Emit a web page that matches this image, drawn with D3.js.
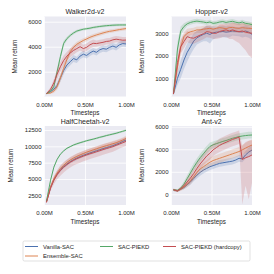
<!DOCTYPE html>
<html>
<head>
<meta charset="utf-8">
<script src="https://cdn.jsdelivr.net/npm/d3@7"></script>
<style>
body { margin: 0; background: #fff; }
svg { display: block; font-family: "Liberation Sans", Arial, sans-serif; }
</style>
</head>
<body>
<svg id="chart" width="274" height="274"></svg>
<script>
// timesteps (millions)
const steps = [0.03,0.08,0.12,0.16,0.20,0.24,0.28,0.32,0.36,0.40,0.44,0.48,0.52,0.56,0.60,0.64,0.68,0.72,0.76,0.80,0.84,0.88,0.92,0.96,1.00];

const seriesNames = ['Vanilla-SAC', 'Ensemble-SAC', 'SAC-PIEKD', 'SAC-PIEKD (hardcopy)'];
const xTickValues = [0, 0.5, 1.0];

// Walker2d-v2
const walkerVanilla  = [250,400,600,900,1500,2100,2540,2800,3050,2950,3250,3400,3300,3500,3650,3550,3750,3850,3800,3950,4050,3950,4150,4250,4220];
const walkerEnsemble = [250,300,450,800,1500,2270,3000,3600,3950,4200,4350,4500,4620,4750,4850,4940,5020,5100,5170,5230,5270,5320,5370,5410,5450];
const walkerPiekd    = [250,450,800,2000,3200,4270,4650,4900,5100,5250,5330,5400,5440,5480,5540,5580,5620,5650,5680,5700,5720,5730,5740,5740,5740];
const walkerHard     = [250,600,1100,1800,2400,2900,3250,3500,3700,3850,4000,3850,3950,4150,4270,4250,4300,4350,4420,4450,4550,4600,4560,4520,4530];
const walkerVanillaSd  = [50,100,150,250,300,300,300,280,280,250,250,250,250,250,250,250,250,250,250,250,250,250,250,250,250];
const walkerEnsembleSd = [50,80,150,250,300,300,300,250,200,200,180,180,180,170,160,150,150,150,140,140,130,130,130,130,130];
const walkerPiekdSd    = [50,100,200,300,250,200,150,130,120,110,100,100,100,100,100,100,100,100,100,100,100,100,100,100,100];
const walkerHardSd     = [50,150,300,400,400,400,350,350,350,300,300,300,300,300,300,250,250,250,250,250,250,250,250,250,250];

// Hopper-v2
const hopperVanilla  = [300,1000,1400,1810,2150,2400,2650,2800,2880,2950,3000,2950,3020,3050,3060,3080,3050,3070,3100,3080,3070,3060,3100,3050,2950];
const hopperEnsemble = [300,1500,2400,2850,3000,3070,3100,3150,3150,3180,3200,3220,3180,3220,3250,3230,3200,3250,3260,3230,3220,3250,3230,3220,3220];
const hopperPiekd    = [300,2300,3100,3300,3420,3480,3520,3540,3520,3500,3470,3500,3440,3460,3500,3520,3480,3510,3530,3490,3460,3500,3440,3420,3380];
const hopperHard     = [300,1700,2400,2630,2850,2800,2780,2850,2920,2980,3070,3050,3000,3000,3080,3120,3150,3100,3150,3100,3070,3100,3050,3020,3000];
const hopperVanillaSd  = [50,300,400,400,400,350,350,300,300,300,350,400,300,250,250,250,250,250,200,200,200,250,250,250,250];
const hopperEnsembleSd = [50,300,300,200,200,150,150,150,150,150,150,150,150,150,150,150,150,150,200,200,200,200,250,250,250];
const hopperPiekdSd    = [50,300,200,150,100,100,100,100,100,100,100,100,100,100,100,100,100,100,100,100,100,100,100,100,100];
const hopperHardSd     = [50,300,300,300,250,250,250,250,250,250,250,250,250,250,300,300,300,350,350,350,350,350,350,350,350];
const hopperHardSdLow  = [50,300,300,300,250,250,250,250,250,250,250,250,250,250,300,300,300,350,400,450,500,700,800,1000,1100];

// HalfCheetah-v2
const cheetahVanilla  = [1500,3700,4900,5750,6400,6900,7300,7650,7950,8200,8420,8620,8800,8980,9150,9320,9480,9650,9800,9950,10100,10300,10500,10750,10950];
const cheetahEnsemble = [1500,3800,5000,5900,6600,7100,7550,7900,8200,8450,8680,8900,9100,9280,9450,9620,9800,9950,10100,10250,10400,10550,10750,10950,11200];
const cheetahPiekd    = [1600,4800,6800,8000,8800,9300,9700,9950,10200,10380,10550,10700,10850,10980,11100,11230,11380,11500,11640,11760,11880,12000,12150,12300,12450];
const cheetahHard     = [1400,3600,4800,5650,6300,6800,7200,7550,7850,8100,8300,8500,8680,8850,9000,9170,9330,9500,9650,9800,9950,10150,10350,10550,10750];
const cheetahVanillaSd  = [100,300,300,300,300,300,300,300,300,300,300,300,300,300,300,300,300,300,300,300,300,300,300,300,300];
const cheetahEnsembleSd = [100,300,400,400,400,400,400,400,400,400,400,400,400,400,400,400,400,400,400,400,400,400,400,400,400];
const cheetahPiekdSd    = [100,200,200,150,150,150,150,150,150,150,150,150,150,150,150,150,150,150,150,150,150,150,150,150,150];
const cheetahHardSd     = [100,400,600,700,800,800,800,800,800,800,800,800,800,800,800,800,800,800,800,800,800,750,700,700,700];

// Ant-v2
const antVanilla  = [400,300,450,600,850,1100,1400,1700,1950,2150,2300,2450,2550,2650,2750,2800,2850,2900,2950,3050,3200,3150,3500,3750,3940];
const antEnsemble = [400,300,450,650,900,1200,1550,1950,2250,2450,2650,2850,3000,3100,3200,3300,3400,3500,3600,3700,3800,3950,4100,4250,4380];
const antPiekd    = [400,350,550,900,1400,1900,2400,2850,3250,3600,3950,4250,4400,4500,4600,4700,4780,4880,4980,5050,5130,5180,5220,5250,5270];
const antHard     = [400,300,500,750,1100,1450,1850,2300,2700,3050,3400,3650,3950,4150,4350,4500,4620,4750,4880,4970,5080,3100,3250,3350,3500];
const antVanillaSd  = [100,100,100,150,200,250,250,300,300,300,300,300,300,300,300,300,300,300,300,300,300,300,350,400,400];
const antEnsembleSd = [100,100,150,200,250,300,300,350,350,350,350,400,400,400,400,400,400,400,400,400,400,450,450,500,500];
const antPiekdSd    = [100,100,150,250,300,350,350,350,350,350,350,350,300,300,300,300,300,300,300,300,300,300,300,300,300];
const antHardSd     = [100,100,150,200,300,400,450,500,500,500,550,550,550,550,600,600,600,600,600,600,600,1200,1400,1400,1300];
const antHardSdLow  = [100,100,150,200,300,400,450,500,500,500,550,550,550,550,600,600,600,600,600,600,600,4000,2500,3800,2500];

const colors = ['#4c72b0', '#dd8452', '#55a868', '#c44e52'];

const panels = [
  { title: 'Walker2d-v2', yDomain: [16, 6416], yTicks: [2000, 4000, 6000],
    mean: [walkerVanilla, walkerEnsemble, walkerPiekd, walkerHard],
    sd: [walkerVanillaSd, walkerEnsembleSd, walkerPiekdSd, walkerHardSd],
    sdLow: [null, null, null, null] },
  { title: 'Hopper-v2', yDomain: [190, 3745], yTicks: [1000, 2000, 3000],
    mean: [hopperVanilla, hopperEnsemble, hopperPiekd, hopperHard],
    sd: [hopperVanillaSd, hopperEnsembleSd, hopperPiekdSd, hopperHardSd],
    sdLow: [null, null, null, hopperHardSdLow] },
  { title: 'HalfCheetah-v2', yDomain: [1015, 13110], yTicks: [2500, 5000, 7500, 10000, 12500],
    mean: [cheetahVanilla, cheetahEnsemble, cheetahPiekd, cheetahHard],
    sd: [cheetahVanillaSd, cheetahEnsembleSd, cheetahPiekdSd, cheetahHardSd],
    sdLow: [null, null, null, null] },
  { title: 'Ant-v2', yDomain: [-950, 6070], yTicks: [0, 2000, 4000, 6000],
    mean: [antVanilla, antEnsemble, antPiekd, antHard],
    sd: [antVanillaSd, antEnsembleSd, antPiekdSd, antHardSd],
    sdLow: [null, null, null, antHardSdLow] }
];

const svg = d3.select('#chart');
const cols = [{ x: 44, w: 82 }, { x: 171, w: 81 }];
const rows = [{ y: 16.5, h: 80 }, { y: 126, h: 79 }];
const textColor = '#262626';

panels.forEach((p, i) => {
  const c = cols[i % 2];
  const r = rows[Math.floor(i / 2)];
  const g = svg.append('g').attr('transform', `translate(${c.x},${r.y})`);

  const x = d3.scaleLinear().domain([0, 1]).range([0, c.w]);
  const y = d3.scaleLinear().domain(p.yDomain).range([r.h, 0]);

  g.append('rect')
    .attr('width', c.w)
    .attr('height', r.h)
    .attr('fill', '#eaeaf2');

  // grid lines
  g.append('g')
    .attr('class', 'grid')
    .call(d3.axisLeft(y).tickValues(p.yTicks).tickSize(-c.w).tickFormat(''))
    .call(a => a.select('.domain').remove())
    .call(a => a.selectAll('line').attr('stroke', '#fff').attr('stroke-width', 0.8));

  g.append('g')
    .attr('class', 'grid')
    .attr('transform', `translate(0,${r.h})`)
    .call(d3.axisBottom(x).tickValues(xTickValues).tickSize(-r.h).tickFormat(''))
    .call(a => a.select('.domain').remove())
    .call(a => a.selectAll('line').attr('stroke', '#fff').attr('stroke-width', 0.8));

  const clipId = 'clip' + i;
  g.append('clipPath').attr('id', clipId)
    .append('rect').attr('width', c.w).attr('height', r.h);

  const plot = g.append('g').attr('clip-path', `url(#${clipId})`);

  p.mean.forEach((m, k) => {
    const sd = p.sd[k];
    const sdLow = p.sdLow[k] || sd;
    const pts = steps.map((s, j) => ({ s, m: m[j], lo: m[j] - sdLow[j], hi: m[j] + sd[j] }));

    plot.append('path')
      .datum(pts)
      .attr('fill', colors[k])
      .attr('fill-opacity', 0.2)
      .attr('d', d3.area().x(d => x(d.s)).y0(d => y(d.lo)).y1(d => y(d.hi)));

    plot.append('path')
      .datum(pts)
      .attr('fill', 'none')
      .attr('stroke', colors[k])
      .attr('stroke-width', 1)
      .attr('stroke-linejoin', 'round')
      .attr('d', d3.line().x(d => x(d.s)).y(d => y(d.m)));
  });

  // axes
  const yAxis = g.append('g')
    .call(d3.axisLeft(y).tickValues(p.yTicks).tickSize(0).tickPadding(2.5).tickFormat(d3.format('d')))
    .call(a => a.select('.domain').remove());
  yAxis.selectAll('text').attr('fill', textColor).style('font-size', '6px').style('font-family', '"Liberation Sans", Arial, sans-serif');

  const xAxis = g.append('g')
    .attr('transform', `translate(0,${r.h})`)
    .call(d3.axisBottom(x).tickValues(xTickValues).tickSize(0).tickPadding(6).tickFormat(d => d3.format('.2f')(d) + 'M'))
    .call(a => a.select('.domain').remove());
  xAxis.selectAll('text').attr('fill', textColor).style('font-size', '6px').style('font-family', '"Liberation Sans", Arial, sans-serif');

  let minX = 0;
  yAxis.selectAll('text').each(function () {
    const b = this.getBBox();
    minX = Math.min(minX, b.x);
  });

  g.append('text')
    .attr('transform', `translate(${minX - 11.5},${r.h / 2}) rotate(-90)`)
    .attr('text-anchor', 'middle')
    .attr('fill', textColor)
    .style('font-size', '6.3px')
    .text('Mean return');

  g.append('text')
    .attr('x', c.w / 2)
    .attr('y', r.h + 18.5)
    .attr('text-anchor', 'middle')
    .attr('fill', textColor)
    .style('font-size', '6.3px')
    .text('Timesteps');

  g.append('text')
    .attr('x', c.w / 2)
    .attr('y', -2.5)
    .attr('text-anchor', 'middle')
    .attr('fill', textColor)
    .style('font-size', '7px')
    .text(p.title);
});

// legend
const legend = svg.append('g').attr('transform', 'translate(23,241)');
legend.append('rect')
  .attr('width', 227)
  .attr('height', 20)
  .attr('rx', 1.5)
  .attr('fill', '#fff')
  .attr('fill-opacity', 0.8)
  .attr('stroke', '#cccccc')
  .attr('stroke-width', 0.6);

const legendPos = [[2, 5.5], [2, 15], [77, 5.5], [140, 5.5]];
seriesNames.forEach((name, k) => {
  const [lx, ly] = legendPos[k];
  legend.append('line')
    .attr('x1', lx).attr('x2', lx + 13)
    .attr('y1', ly).attr('y2', ly)
    .attr('stroke', colors[k])
    .attr('stroke-width', 1);
  legend.append('text')
    .attr('x', lx + 18)
    .attr('y', ly + 2)
    .attr('fill', textColor)
    .style('font-size', '5.8px')
    .text(name);
});
</script>
</body>
</html>
